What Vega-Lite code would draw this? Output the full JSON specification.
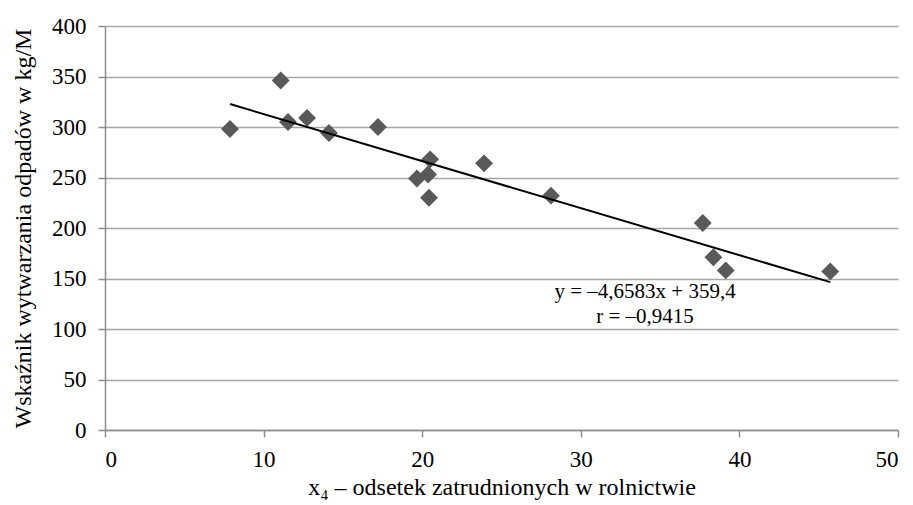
{
  "$schema": "https://vega.github.io/schema/vega-lite/v6.json",
  "width": 793,
  "height": 404,
  "autosize": "none",
  "padding": {"left": 105, "top": 26, "right": 15, "bottom": 75},
  "background": "white",
  "config": {
    "view": {"stroke": null},
    "font": "Liberation Serif",
    "axis": {
      "labelFont": "Liberation Serif",
      "titleFont": "Liberation Serif",
      "labelFontSize": 23,
      "titleFontSize": 24,
      "labelColor": "black",
      "titleColor": "black",
      "titleFontWeight": "normal",
      "domainColor": "#8c8c8c",
      "tickColor": "#8c8c8c",
      "gridColor": "#a6a6a6",
      "gridWidth": 1.5,
      "domainWidth": 1.5,
      "tickWidth": 1.5
    }
  },
  "datasets": {
    "points": [
      {"x": 7.88, "y": 298},
      {"x": 11.08, "y": 346},
      {"x": 11.54, "y": 305},
      {"x": 12.74, "y": 309},
      {"x": 14.12, "y": 294},
      {"x": 17.21, "y": 300},
      {"x": 19.67, "y": 249},
      {"x": 20.37, "y": 253},
      {"x": 20.5, "y": 268},
      {"x": 20.43, "y": 230},
      {"x": 23.9, "y": 264},
      {"x": 28.12, "y": 232},
      {"x": 37.69, "y": 205},
      {"x": 38.36, "y": 171},
      {"x": 39.14, "y": 158},
      {"x": 45.73, "y": 157}
    ],
    "trend": [
      {"x": 7.88, "y": 322.7},
      {"x": 45.73, "y": 146.4}
    ],
    "labels": [
      {"x": 34.05, "y": 137, "t": ["y = –4,6583x + 359,4", "r = –0,9415"]}
    ]
  },
  "layer": [
    {
      "data": {"name": "points"},
      "mark": {"type": "point", "shape": "diamond", "filled": true, "size": 320, "color": "#595959", "opacity": 1},
      "encoding": {
        "x": {
          "field": "x", "type": "quantitative",
          "scale": {"domain": [0, 50], "nice": false},
          "axis": {
            "values": [0, 10, 20, 30, 40, 50],
            "grid": false,
            "tickSize": 7,
            "labelPadding": 11,
            "title": "x₄ – odsetek zatrudnionych w rolnictwie",
            "titlePadding": 4
          }
        },
        "y": {
          "field": "y", "type": "quantitative",
          "scale": {"domain": [0, 400], "nice": false},
          "axis": {
            "values": [0, 50, 100, 150, 200, 250, 300, 350, 400],
            "grid": true,
            "tickSize": 7,
            "labelPadding": 12,
            "title": "Wskaźnik wytwarzania odpadów w kg/M",
            "titlePadding": 16
          }
        }
      }
    },
    {
      "data": {"name": "labels"},
      "mark": {"type": "text", "fontSize": 21, "lineHeight": 25, "font": "Liberation Serif", "align": "center", "baseline": "middle", "color": "black"},
      "encoding": {
        "x": {"field": "x", "type": "quantitative"},
        "y": {"field": "y", "type": "quantitative"},
        "text": {"field": "t"}
      }
    },
    {
      "data": {"name": "trend"},
      "mark": {"type": "line", "color": "black", "strokeWidth": 2},
      "encoding": {
        "x": {"field": "x", "type": "quantitative"},
        "y": {"field": "y", "type": "quantitative"}
      }
    }
  ]
}
